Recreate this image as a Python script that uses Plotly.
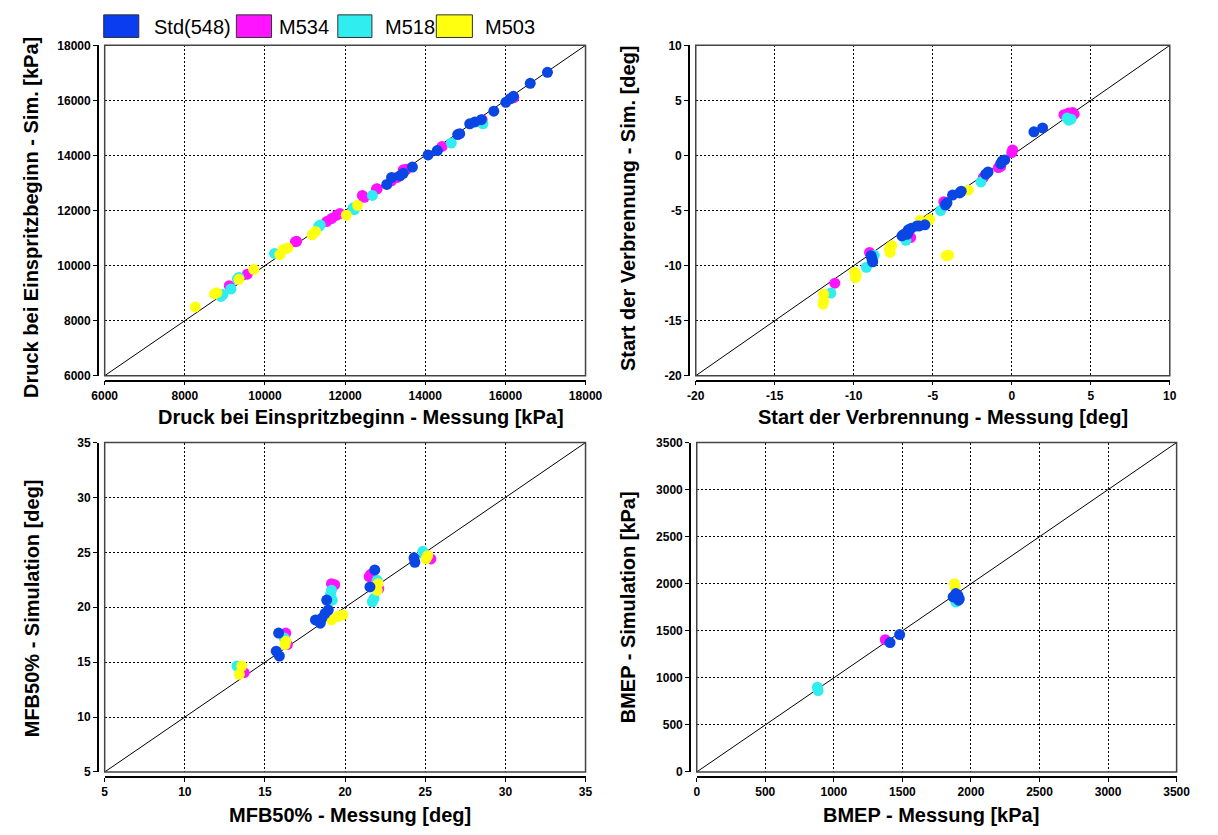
import plotly.graph_objects as go

W, H = 1218, 835

# ---------------- data ----------------
series_names = ["Std(548)", "M534", "M518", "M503"]
series_colors = ["#0A46E4", "#FF14FF", "#30EEF0", "#FFFF10"]

# Druck bei Einspritzbeginn [kPa]  (Messung, Simulation)
p_std_x = [17050, 16620, 16200, 16120, 16010, 15710, 15400, 15240, 15110, 14810, 14860,
           14300, 14070, 13680, 13450, 13370, 13160, 13040]
p_std_y = [17020, 16620, 16150, 16060, 15930, 15610, 15300, 15220, 15150, 14760, 14790,
           14180, 14020, 13580, 13350, 13260, 13200, 12950]
p_m534_x = [16210, 15420, 14420, 13530, 13450, 13290, 13160, 12800, 12780, 12480, 12430,
            11870, 11790, 11660, 11540, 10790, 10760, 9560, 9110]
p_m534_y = [16100, 15300, 14330, 13500, 13480, 13200, 13080, 12790, 12780, 12480, 12550,
            11890, 11830, 11710, 11600, 10880, 10870, 9690, 9270]
p_m518_x = [15440, 14650, 12680, 12230, 12200, 11380, 11340, 10240, 9350, 9310, 9150, 8900, 8950]
p_m518_y = [15150, 14450, 12550, 12030, 12100, 11470, 11420, 10440, 9570, 9510, 9150, 8880, 8950]
p_m503_x = [8260, 8740, 8800, 9350, 9720, 10370, 10450, 10570, 11180, 11260, 12030, 12310]
p_m503_y = [8500, 8970, 9010, 9500, 9860, 10400, 10580, 10640, 11120, 11240, 11830, 12190]

# Start der Verbrennung [deg]
soc_std_x = [1.4, 1.95, -0.45, -0.6, -0.7, -1.5, -1.65, -3.2, -3.3, -3.75, -4.1, -4.2,
             -5.5, -5.85, -6.0, -6.35, -6.55, -6.6, -6.75, -6.85, -6.95, -8.9, -8.85, -8.8]
soc_std_y = [2.15, 2.5, -0.4, -0.5, -0.75, -1.5, -1.7, -3.25, -3.4, -3.6, -4.3, -4.5,
             -6.3, -6.4, -6.4, -6.6, -6.75, -7.15, -7.1, -7.2, -7.3, -9.1, -9.4, -9.65]
soc_m534_x = [3.3, 3.6, 3.85, 3.95, 0.0, 0.05, -0.7, -0.85, -1.8, -4.3, -6.4, -9.0, -11.2]
soc_m534_y = [3.7, 3.85, 3.9, 3.75, 0.25, 0.5, -1.0, -1.1, -2.0, -4.2, -7.45, -8.8, -11.6]
soc_m518_x = [3.6, 3.75, 3.5, -1.95, -4.5, -6.7, -6.75, -8.7, -9.2, -11.45]
soc_m518_y = [3.2, 3.3, 3.4, -2.4, -5.0, -7.7, -7.5, -9.05, -10.15, -12.5]
soc_m503_x = [-2.75, -5.2, -5.35, -5.8, -7.6, -7.75, -7.7, -4.0, -4.15, -9.95, -9.9, -9.85,
              -11.9, -11.9, -11.95]
soc_m503_y = [-3.15, -5.8, -6.0, -5.9, -8.2, -8.5, -8.8, -9.05, -9.1, -10.6, -11.1, -10.85,
              -12.6, -13.2, -13.5]

# MFB50% [deg]
mfb_std_x = [24.3, 24.35, 21.85, 21.55, 18.85, 18.95, 18.75, 18.55, 18.15, 18.45, 15.85, 15.7, 15.9]
mfb_std_y = [24.5, 24.1, 23.4, 21.85, 20.65, 19.75, 19.45, 19.0, 18.85, 18.55, 17.65, 16.0, 15.55]
mfb_m534_x = [25.35, 21.6, 21.5, 22.1, 19.15, 19.35, 16.3, 16.4, 13.7]
mfb_m534_y = [24.4, 23.0, 22.8, 21.7, 22.15, 22.05, 17.65, 16.6, 14.05]
mfb_m518_x = [24.85, 24.95, 22.0, 21.8, 21.7, 19.15, 19.1, 19.2, 16.2, 13.25]
mfb_m518_y = [25.1, 24.8, 22.45, 20.8, 20.5, 21.55, 21.25, 20.65, 17.2, 14.65]
mfb_m503_x = [25.15, 25.05, 22.05, 22.0, 19.15, 19.55, 19.85, 16.3, 16.25, 13.55, 13.4]
mfb_m503_y = [24.7, 24.4, 22.15, 21.55, 18.85, 19.15, 19.3, 16.9, 16.6, 14.65, 13.9]

# BMEP [kPa]
bmep_std_x = [1410, 1480, 1870, 1890, 1905, 1915, 1910]
bmep_std_y = [1375, 1460, 1860, 1895, 1875, 1840, 1825]
bmep_m534_x = [1375]
bmep_m534_y = [1405]
bmep_m518_x = [880, 885, 1890]
bmep_m518_y = [900, 865, 1805]
bmep_m503_x = [1880, 1885]
bmep_m503_y = [2000, 1965]

# axis ranges and tick values per panel
p_range, p_ticks = [6000, 18000], list(range(6000, 18001, 2000))
soc_range, soc_ticks = [-20, 10], list(range(-20, 11, 5))
mfb_range, mfb_ticks = [5, 35], list(range(5, 36, 5))
bmep_range, bmep_ticks = [0, 3500], list(range(0, 3501, 500))

panels = [
    dict(series=[(p_std_x, p_std_y), (p_m534_x, p_m534_y), (p_m518_x, p_m518_y), (p_m503_x, p_m503_y)],
         rng=p_range, ticks=p_ticks, box=(94, 587, 39, 375),
         xtitle="Druck bei Einspritzbeginn - Messung [kPa]", xt=(357, 417),
         ytitle="Druck bei Einspritzbeginn - Sim. [kPa]", yt=(19, 214)),
    dict(series=[(soc_std_x, soc_std_y), (soc_m534_x, soc_m534_y), (soc_m518_x, soc_m518_y), (soc_m503_x, soc_m503_y)],
         rng=soc_range, ticks=soc_ticks, box=(700, 1186, 39, 375),
         xtitle="Start der Verbrennung - Messung [deg]", xt=(953, 417),
         ytitle="Start der Verbrennung - Sim. [deg]", yt=(630, 204)),
    dict(series=[(mfb_std_x, mfb_std_y), (mfb_m534_x, mfb_m534_y), (mfb_m518_x, mfb_m518_y), (mfb_m503_x, mfb_m503_y)],
         rng=mfb_range, ticks=mfb_ticks, box=(94, 587, 443, 778),
         xtitle="MFB50% - Messung [deg]", xt=(345, 822),
         ytitle="MFB50% - Simulation [deg]", yt=(19, 612)),
    dict(series=[(bmep_std_x, bmep_std_y), (bmep_m534_x, bmep_m534_y), (bmep_m518_x, bmep_m518_y), (bmep_m503_x, bmep_m503_y)],
         rng=bmep_range, ticks=bmep_ticks, box=(701, 1193, 443, 778),
         xtitle="BMEP - Messung [kPa]", xt=(941, 822),
         ytitle="BMEP - Simulation [kPa]", yt=(630, 610)),
]

BOLD = "Liberation Sans, Arial, sans-serif"
REGULAR = "Liberation Sans, Arial, sans-serif"

fig = go.Figure()
layout = dict(width=W, height=H, margin=dict(l=0, r=0, t=0, b=0),
              paper_bgcolor="white", plot_bgcolor="white", showlegend=False)
shapes, annotations = [], []

# draw the measured series below the reference series so Std sits on top
draw_order = [1, 2, 3, 0]

for i, pnl in enumerate(panels, start=1):
    xa = "x" if i == 1 else f"x{i}"
    ya = "y" if i == 1 else f"y{i}"
    l, r, t, b = pnl["box"]
    xdom = [l / W, r / W]
    ydom = [1 - b / H, 1 - t / H]

    # 1:1 reference line
    fig.add_trace(go.Scatter(x=pnl["rng"], y=pnl["rng"], xaxis=xa, yaxis=ya, mode="lines",
                             line=dict(color="black", width=1), hoverinfo="skip"))
    for k in draw_order:
        sx, sy = pnl["series"][k]
        fig.add_trace(go.Scatter(x=sx, y=sy, xaxis=xa, yaxis=ya, mode="markers",
                                 name=series_names[k],
                                 marker=dict(size=11, color=series_colors[k], line=dict(width=0))))

    axis_common = dict(showgrid=True, gridcolor="black", gridwidth=1, griddash="2px,2px",
                       zeroline=False, showline=True, linecolor="black", linewidth=1.5,
                       ticks="outside", ticklen=4, tickcolor="black", tickwidth=1,
                       tickfont=dict(family=BOLD, size=12, color="black", weight="bold"),
                       tickmode="array", tickvals=pnl["ticks"],
                       ticktext=[str(v) for v in pnl["ticks"]],
                       range=pnl["rng"], fixedrange=True)
    layout["xaxis" if i == 1 else f"xaxis{i}"] = dict(
        axis_common, domain=xdom, anchor="free", position=1 - (b + 5) / H)
    layout["yaxis" if i == 1 else f"yaxis{i}"] = dict(
        axis_common, domain=ydom, anchor="free", position=(l - 7) / W)

    # plot frame
    shapes.append(dict(type="rect", xref="paper", yref="paper",
                       x0=xdom[0], x1=xdom[1], y0=ydom[0], y1=ydom[1],
                       line=dict(color="#444444", width=1.5), layer="above"))

    # axis titles
    annotations.append(dict(text=pnl["xtitle"], xref="paper", yref="paper",
                            x=pnl["xt"][0] / W, y=1 - pnl["xt"][1] / H,
                            xanchor="center", yanchor="middle", showarrow=False,
                            font=dict(family=BOLD, size=20, color="black", weight="bold")))
    annotations.append(dict(text=pnl["ytitle"], xref="paper", yref="paper",
                            x=pnl["yt"][0] / W, y=1 - pnl["yt"][1] / H, textangle=-90,
                            xanchor="center", yanchor="middle", showarrow=False,
                            font=dict(family=BOLD, size=20, color="black", weight="bold")))

# legend row: coloured boxes with labels
legend_boxes = [(93, 129), (229, 265), (333, 368), (434, 471)]
legend_text_x = [142, 271, 379, 482]
for k, name in enumerate(series_names):
    x0, x1 = legend_boxes[k]
    shapes.append(dict(type="rect", xref="paper", yref="paper",
                       x0=x0 / W, x1=x1 / W, y0=1 - 31 / H, y1=1 - 8 / H,
                       fillcolor=series_colors[k] if k != 0 else "#0A3CF0",
                       line=dict(color="#333333", width=1)))
    annotations.append(dict(text=name, xref="paper", yref="paper",
                            x=legend_text_x[k] / W, y=1 - 20 / H,
                            xanchor="left", yanchor="middle", showarrow=False,
                            font=dict(family=REGULAR, size=20, color="black")))

layout["shapes"] = shapes
layout["annotations"] = annotations
fig.update_layout(**layout)

fig.write_html("out.html")
